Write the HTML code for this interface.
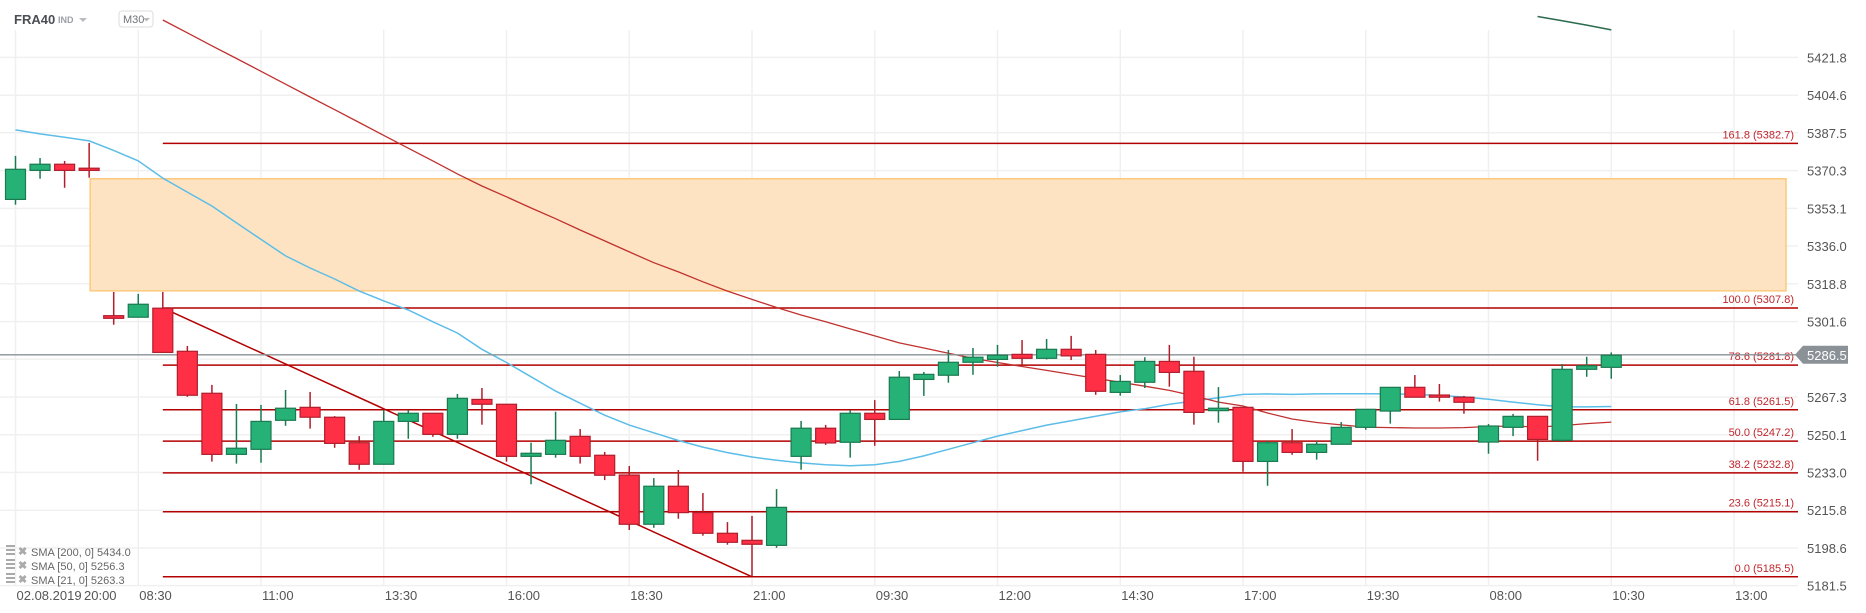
<!DOCTYPE html>
<html><head><meta charset="utf-8">
<style>
html,body{margin:0;padding:0;background:#fff;}
body{width:1866px;height:613px;overflow:hidden;font-family:"Liberation Sans",sans-serif;position:relative;}
#hdr{position:absolute;left:14px;top:10px;height:20px;}
</style></head>
<body>
<svg id="chart" width="1866" height="613" xmlns="http://www.w3.org/2000/svg" style="position:absolute;left:0;top:0;font-family:'Liberation Sans',sans-serif">
  <g id="grid"></g>
  <g id="zone"></g>
  <g id="fib"></g>
  <g id="smas"></g>
  <g id="candles"></g>
  <g id="yaxis"></g>
  <g id="xaxis"></g>
  <g id="legend">
    <g>
      <rect x="6" y="545" width="9" height="2" fill="#aaa"/><rect x="6" y="549" width="9" height="2" fill="#aaa"/><rect x="6" y="553" width="9" height="2" fill="#aaa"/>
      <text x="18" y="555" font-size="11" fill="#aaa" font-weight="bold">✖</text>
      <text x="31" y="556" font-size="11" fill="#666">SMA [200, 0] 5434.0</text>
    </g>
    <g>
      <rect x="6" y="559" width="9" height="2" fill="#aaa"/><rect x="6" y="563" width="9" height="2" fill="#aaa"/><rect x="6" y="567" width="9" height="2" fill="#aaa"/>
      <text x="18" y="569" font-size="11" fill="#aaa" font-weight="bold">✖</text>
      <text x="31" y="570" font-size="11" fill="#666">SMA [50, 0] 5256.3</text>
    </g>
    <g>
      <rect x="6" y="573" width="9" height="2" fill="#aaa"/><rect x="6" y="577" width="9" height="2" fill="#aaa"/><rect x="6" y="581" width="9" height="2" fill="#aaa"/>
      <text x="18" y="583" font-size="11" fill="#aaa" font-weight="bold">✖</text>
      <text x="31" y="584" font-size="11" fill="#666">SMA [21, 0] 5263.3</text>
    </g>
  </g>
  <g>
    <text x="14" y="24" font-size="13" font-weight="bold" fill="#4a4f55">FRA40</text>
    <text x="58" y="23" font-size="9" font-weight="bold" fill="#9aa0a6">IND</text>
    <path d="M79 18 L87 18 L83 22 Z" fill="#b8bcc0"/>
    <g>
      <rect x="119" y="11" width="34" height="16" rx="3" fill="#fff" stroke="#ddd"/>
      <text x="123" y="23" font-size="11" fill="#707478">M30</text>
      <path d="M143 18 L150 18 L146.5 21.5 Z" fill="#b8bcc0"/>
    </g>
  </g>
</svg>
<script>
const NS="http://www.w3.org/2000/svg";
// ---- data ----
const opens  = [5357.2,5370.4,5373.2,5371.4,5304.3,5303.6,5307.7,5288.1,5269.0,5241.2,5243.5,5256.7,5262.6,5258.1,5246.5,5236.7,5256.2,5259.9,5250.3,5266.2,5264.0,5240.3,5241.2,5249.4,5240.8,5231.8,5209.4,5226.7,5214.7,5205.3,5202.1,5199.8,5240.3,5253.1,5246.7,5259.9,5257.1,5275.3,5277.2,5283.1,5284.4,5286.7,5284.9,5289.0,5286.7,5269.4,5274.0,5283.5,5279.0,5261.1,5262.6,5238.0,5246.5,5242.1,5245.8,5253.5,5260.9,5271.7,5268.2,5267.2,5246.8,5253.5,5258.5,5247.6,5279.9,5280.8];
const closes = [5370.9,5373.2,5370.4,5370.4,5303.1,5309.5,5287.6,5268.1,5241.2,5244.0,5256.2,5262.2,5258.1,5246.2,5236.7,5256.2,5259.9,5250.3,5266.7,5264.0,5240.3,5241.7,5247.6,5240.3,5231.7,5209.4,5226.7,5214.7,5205.3,5201.2,5200.3,5217.1,5253.1,5246.4,5259.9,5257.1,5276.3,5277.6,5283.1,5285.4,5286.3,5284.9,5289.0,5286.0,5269.9,5274.4,5283.5,5278.5,5260.3,5262.2,5238.0,5246.5,5242.1,5245.8,5253.5,5261.7,5271.7,5267.2,5267.2,5264.9,5254.1,5258.5,5248.0,5279.9,5281.5,5286.3];
const highs  = [5377.0,5376.0,5374.7,5382.9,5315.1,5314.2,5315.1,5290.5,5272.8,5264.1,5263.7,5270.5,5269.6,5258.6,5249.5,5261.4,5261.4,5259.9,5268.7,5271.4,5264.0,5246.5,5260.6,5252.7,5242.3,5235.9,5230.4,5234.1,5223.6,5210.4,5213.2,5225.4,5256.4,5254.6,5261.4,5265.9,5279.1,5278.7,5288.7,5289.6,5291.0,5293.2,5293.7,5295.1,5288.7,5277.3,5285.4,5291.0,5285.6,5271.8,5262.6,5247.3,5252.7,5247.3,5255.9,5261.7,5271.7,5277.3,5273.2,5267.8,5255.0,5259.6,5258.5,5282.3,5285.6,5287.6];
const lows   = [5354.8,5366.6,5362.5,5367.1,5300.2,5303.6,5287.6,5267.4,5237.9,5237.0,5237.4,5254.2,5252.9,5244.2,5234.2,5236.7,5248.3,5249.2,5248.3,5254.7,5237.9,5227.6,5239.7,5237.0,5229.5,5206.8,5207.8,5211.9,5204.2,5200.1,5185.8,5198.7,5234.2,5245.5,5239.7,5245.1,5257.0,5267.8,5273.8,5277.4,5281.1,5281.9,5284.4,5284.1,5268.3,5267.9,5271.4,5272.0,5254.7,5255.6,5233.3,5226.9,5241.0,5238.8,5245.8,5252.4,5255.2,5267.2,5265.2,5259.7,5241.5,5249.5,5238.3,5246.8,5276.5,5275.6];
const sma21 = [5388.8,5387,5385.5,5383.8,5379.5,5374.7,5366.9,5360.5,5354.2,5346.5,5339,5331.5,5326,5321,5315.5,5311,5306.9,5301.5,5296.4,5289,5283,5276.5,5270,5264.5,5259,5254.5,5251,5247.5,5244.5,5242,5240,5238.5,5237.3,5236.5,5236,5236.5,5238,5240.5,5243.5,5246.5,5249.5,5252,5254.5,5256.5,5258.5,5260.5,5262,5264,5265.5,5267,5268.5,5268.7,5268.5,5268.7,5268.8,5268.8,5268.7,5268.5,5268,5267.3,5266.3,5265,5263.8,5262.8,5262.8,5263];
const sma50Start = 6;
const sma50 = [5438.8,5433.0,5427.1,5421.3,5415.5,5409.6,5403.8,5398.0,5392.2,5386.3,5380.5,5374.7,5368.8,5363.3,5358.4,5353.3,5348.4,5343.3,5338.3,5333.3,5328.4,5324.2,5319.7,5315.5,5311.7,5308.0,5304.6,5301.5,5298.3,5295.1,5291.9,5289.6,5287.2,5284.9,5283.0,5281.2,5279.4,5277.6,5275.8,5274.0,5272.2,5270.3,5267.8,5265.0,5263.2,5260.0,5257.3,5255.7,5254.6,5253.6,5253.4,5253.2,5253.2,5253.4,5253.9,5254.1,5253.6,5254.3,5255.2,5255.9];
const sma200Start = 62;
const sma200 = [5440.4,5438.5,5436.5,5434.3];
const yTicks = [5421.8,5404.6,5387.5,5370.3,5353.1,5336.0,5318.8,5301.6,5284.5,5267.3,5250.1,5233.0,5215.8,5198.6,5181.5];
const xTickIdx = [0,5,10,15,20,25,30,35,40,45,50,55,60,65,70];
const xTickLabels = ["02.08.2019","08:30","11:00","13:30","16:00","18:30","21:00","09:30","12:00","14:30","17:00","19:30","08:00","10:30","13:00"];
const fibLevels = [161.8,100.0,78.6,61.8,50.0,38.2,23.6,0.0];
const fibPrices = [5382.7,5307.8,5281.8,5261.5,5247.2,5232.8,5215.1,5185.5];
const fibStartIdx = 6;
const trendFrom = [6,5307.8];
const trendTo = [30,5185.5];
const zoneStartIdx = 3;
const zoneTop = 5366.6, zoneBottom = 5315.6;
const lastPrice = 5286.5;

// ---- scales ----
function y(p){return 246+(5336.0-p)*2.198;}
function x(i){return 15.5+24.55*i;}
const PLOT_R = 1798;

function mk(tag,attrs,parent){const e=document.createElementNS(NS,tag);for(const k in attrs)e.setAttribute(k,attrs[k]);parent.appendChild(e);return e;}

// grid
const grid=document.getElementById('grid');
yTicks.forEach(t=>{
  const l=mk('line',{x1:0,x2:PLOT_R,y1:y(t),y2:y(t),stroke:'#f0f0f0','stroke-width':1.5},grid);
  
  
});
xTickIdx.forEach(i=>{
  const l=mk('line',{x1:x(i),x2:x(i),y1:30,y2:586,stroke:'#f0f0f0','stroke-width':1.5},grid);
  
  
});

// zone
const zg=document.getElementById('zone');
const zr=mk('rect',{x:x(zoneStartIdx)+1,y:y(zoneTop),width:1786-x(zoneStartIdx)-1,height:y(zoneBottom)-y(zoneTop),fill:'#fde3c1',stroke:'#fcc97e','stroke-width':1.5},zg);



// fib
const fg=document.getElementById('fib');
fibLevels.forEach((lv,i)=>{
  const yy=y(fibPrices[i]);
  const l=mk('line',{x1:x(fibStartIdx),x2:PLOT_R,y1:yy,y2:yy,stroke:'#b30000','stroke-width':1.5},fg);
  
  
  const t=mk('text',{x:PLOT_R-4,y:yy-5,'text-anchor':'end','font-size':11,fill:'#c0262d'},fg);
  t.textContent=lv.toFixed(1)+' ('+fibPrices[i].toFixed(1)+')';
  
  
});
const tl=mk('line',{x1:x(trendFrom[0]),y1:y(trendFrom[1]),x2:x(trendTo[0]),y2:y(trendTo[1]),stroke:'#b30000','stroke-width':1.5},fg);



// smas
const sg=document.getElementById('smas');
function line(vals,start,color,w,name){
  const d=vals.map((v,i)=>(i?'L':'M')+x(start+i).toFixed(1)+' '+y(v).toFixed(1)).join(' ');
  const p=mk('path',{d:d,fill:'none',stroke:color,'stroke-width':w},sg);
  
  
}
line(sma21,0,'#5cbde8',1.5,'sma-21-line');
line(sma50,sma50Start,'#c0312f',1.3,'sma-50-line');
line(sma200,sma200Start,'#2b6a4c',1.5,'sma-200-line');

// current price line
const cp=mk('line',{x1:0,x2:PLOT_R,y1:y(lastPrice),y2:y(lastPrice),stroke:'#8a9297','stroke-width':1.3},sg);



// candles
const cg=document.getElementById('candles');
opens.forEach((o,i)=>{
  const c=closes[i],up=c>=o;
  const fill=up?'#26b276':'#ff2f45', st=up?'#1a7a50':'#b01e2c';
  const g=mk('g',{},cg);
  
  
  mk('line',{x1:x(i),x2:x(i),y1:y(highs[i]),y2:y(lows[i]),stroke:st,'stroke-width':1.5},g);
  const top=y(Math.max(o,c)),bot=y(Math.min(o,c));
  mk('rect',{x:x(i)-10,y:top,width:20,height:Math.max(bot-top,1.5),fill:fill,stroke:st,'stroke-width':1.2},g);
});

// y axis
const ya=document.getElementById('yaxis');
yTicks.forEach(t=>{
  if(Math.abs(t-lastPrice)<6)return;
  const tx=mk('text',{x:1807,y:y(t)+5,'font-size':13,fill:'#555'},ya);
  tx.textContent=t.toFixed(1);
  
  
});
const ly=y(lastPrice);
const lb=mk('path',{d:`M1795 ${ly} L1803 ${ly-9} L1848 ${ly-9} L1848 ${ly+9} L1803 ${ly+9} Z`,fill:'#8a9297'},ya);


const lt=mk('text',{x:1807,y:ly+5,'font-size':13,fill:'#fff'},ya);
lt.textContent=lastPrice.toFixed(1);



// x axis
const xa=document.getElementById('xaxis');
xTickIdx.forEach((i,j)=>{
  const t=mk('text',{x:x(i)+1,y:600,'font-size':13,fill:'#555'},xa);
  t.textContent=xTickLabels[j];
  
  
});
const t20=mk('text',{x:84,y:600,'font-size':13,fill:'#555'},xa);
t20.textContent='20:00';


</script>
</body></html>
